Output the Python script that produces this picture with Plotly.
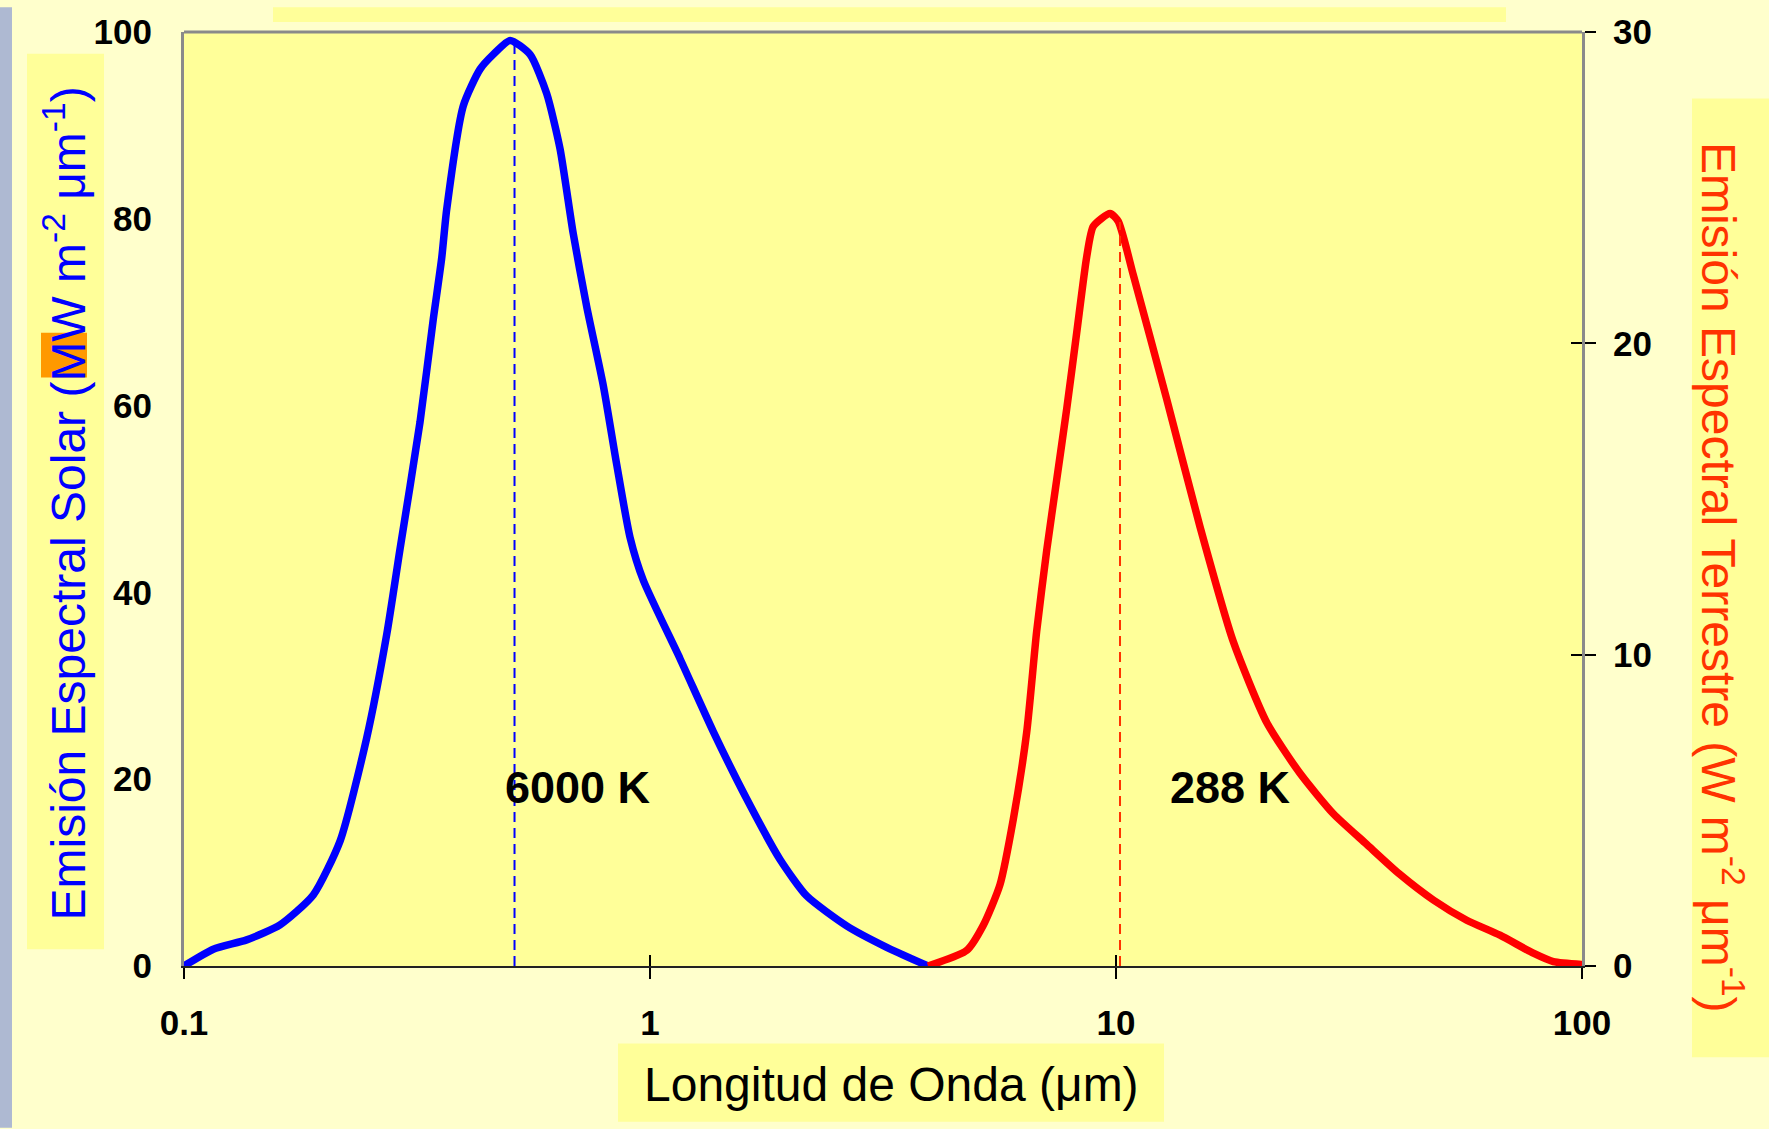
import math
import plotly.graph_objects as go

# ---------------- data ----------------
lam_sol = [0.1, 0.1156, 0.1363, 0.1607, 0.1894, 0.2163, 0.2466, 0.2723, 0.2907, 0.3209,
           0.3428, 0.3573, 0.3662, 0.3975, 0.4316, 0.4611, 0.501, 0.5527, 0.6003, 0.6411,
           0.6844, 0.7314, 0.7942, 0.8482, 0.906, 0.9674, 1.16, 1.367, 1.612, 1.901,
           2.169, 2.642, 3.221, 3.95]
sol = [0, 1.8, 2.8, 4.4, 7.6, 13.4, 24.4, 35.5, 44.6, 58.2,
       69.3, 75.8, 81.0, 92.1, 96.0, 97.6, 99.1, 97.6, 93.4, 87.5,
       78.4, 70.6, 62.1, 53.7, 45.9, 41.3, 32.9, 25.1, 17.9, 11.4,
       7.5, 4.3, 2.0, 0]

lam_ter = [3.95, 4.782, 5.191, 5.636, 6.021, 6.43, 6.756, 7.101, 7.46, 7.839,
           8.235, 8.652, 8.94, 9.71, 10.11, 10.89, 12.85, 15.15, 17.85, 21.06,
           24.82, 29.27, 34.5, 40.68, 47.97, 56.57, 66.68, 78.63, 86.78, 100]
ter = [0, 0.5, 1.31, 2.61, 4.72, 7.49, 10.74, 13.35, 15.62, 17.9,
       20.34, 22.78, 23.76, 24.17, 23.92, 22.2, 18.2, 14.1, 10.42, 7.82,
       6.19, 4.89, 3.91, 2.94, 2.12, 1.47, 0.99, 0.41, 0.14, 0.05]

peak_sol = [0.512, 0.512]
peak_sol_y = [0, 99]
peak_ter = [10.2, 10.2]
peak_ter_y = [0, 23.9]

x_ticks = [0.1, 1, 10, 100]
x_ticktext = ["0.1", "1", "10", "100"]
left_ticks = [0, 20, 40, 60, 80, 100]
right_ticks = [0, 10, 20, 30]

labels = ["6000 K", "288 K"]
label_x = [0.70, 17.6]
label_y = [19.1, 19.1]

# ---------------- styling ----------------
W, H = 1769, 1129
ML, MR, MT, MB = 184, 187, 25, 163
PW, PH = W - ML - MR, H - MT - MB
BOX = "#ffff99"
PAGE = "#ffffcc"
FONT = "Liberation Sans, Arial, sans-serif"


def px(x):
    return (x - ML) / PW


def py(y):
    return (H - MB - y) / PH


fig = go.Figure()

fig.add_trace(go.Scatter(x=lam_sol, y=sol, mode="lines", xaxis="x", yaxis="y",
                         line=dict(color="#0000ff", width=7.5, shape="spline", smoothing=0.6),
                         showlegend=False, hoverinfo="skip"))
fig.add_trace(go.Scatter(x=peak_sol, y=peak_sol_y, mode="lines", xaxis="x", yaxis="y",
                         line=dict(color="#0000ff", width=2, dash="10px,6px"),
                         showlegend=False, hoverinfo="skip"))
fig.add_trace(go.Scatter(x=lam_ter, y=ter, mode="lines", xaxis="x", yaxis="y2",
                         line=dict(color="#ff0000", width=7.5, shape="spline", smoothing=0.6),
                         showlegend=False, hoverinfo="skip"))
fig.add_trace(go.Scatter(x=peak_ter, y=peak_ter_y, mode="lines", xaxis="x2", yaxis="y3",
                         line=dict(color="#ff3300", width=2, dash="10px,6px"),
                         showlegend=False, hoverinfo="skip"))

tickfont = dict(family=FONT, size=35, color="black", weight="bold")

fig.update_layout(
    width=W, height=H,
    margin=dict(l=ML, r=MR, t=MT, b=MB, pad=0),
    paper_bgcolor=PAGE, plot_bgcolor=BOX,
    showlegend=False,
    xaxis=dict(type="log", range=[-1, 2], tickvals=x_ticks, ticktext=x_ticktext,
               ticks="outside", ticklen=11, tickwidth=1.5, tickcolor="black",
               showline=True, linecolor="#222222", linewidth=2,
               showgrid=False, zeroline=False, tickfont=tickfont,
               ticklabelstandoff=14, anchor="y"),
    xaxis2=dict(type="log", matches="x", overlaying="x", side="bottom", anchor="y3",
                tickvals=x_ticks, ticks="inside", ticklen=11, tickwidth=1.5,
                tickcolor="black", showticklabels=False, showline=False,
                showgrid=False, zeroline=False),
    yaxis=dict(range=[0, 100], tickvals=left_ticks, ticks="",
               showline=True, linecolor="#8a8a8a", linewidth=3,
               showgrid=False, zeroline=False, tickfont=tickfont,
               ticklabelstandoff=22, anchor="x"),
    yaxis2=dict(range=[0, 30], tickvals=right_ticks, overlaying="y", side="right",
                ticks="outside", ticklen=11, tickwidth=1.5, tickcolor="black",
                showline=True, linecolor="#8a8a8a", linewidth=3,
                showgrid=False, zeroline=False, tickfont=tickfont,
                ticklabelstandoff=10, anchor="x"),
    yaxis3=dict(matches="y2", overlaying="y", side="right", anchor="x2",
                tickvals=right_ticks, ticks="inside", ticklen=11, tickwidth=1.5,
                tickcolor="black", showticklabels=False, showline=False,
                showgrid=False, zeroline=False),
)

shapes = [
    # left textured strip
    dict(type="rect", xref="paper", yref="paper", x0=px(0), x1=px(12), y0=py(H), y1=py(0),
         fillcolor="#aeb9d2", line=dict(width=0), layer="below"),
    # top (cut) title box
    dict(type="rect", xref="paper", yref="paper", x0=px(273), x1=px(1506), y0=py(15), y1=py(0),
         fillcolor=BOX, line=dict(width=0), layer="below"),
    # left title box
    dict(type="rect", xref="paper", yref="paper", x0=px(27), x1=px(104), y0=py(949), y1=py(47),
         fillcolor=BOX, line=dict(width=0), layer="below"),
    # orange highlight on "M"
    dict(type="rect", xref="paper", yref="paper", x0=px(41), x1=px(87), y0=py(373), y1=py(328),
         fillcolor="#ff9900", line=dict(width=0), layer="below"),
    # right title box
    dict(type="rect", xref="paper", yref="paper", x0=px(1692), x1=px(1769), y0=py(1058), y1=py(92),
         fillcolor=BOX, line=dict(width=0), layer="below"),
    # x title box
    dict(type="rect", xref="paper", yref="paper", x0=px(618), x1=px(1164), y0=py(1123), y1=py(1044),
         fillcolor=BOX, line=dict(width=0), layer="below"),
    # top border of plot area
    dict(type="line", xref="paper", yref="paper", x0=0, x1=1, y0=1, y1=1,
         line=dict(color="#8a8a8a", width=3), layer="above"),
]
fig.update_layout(shapes=shapes)

annotations = [
    dict(text="Longitud de Onda (\u03bcm)", xref="paper", yref="paper",
         x=px(891), y=py(1085), showarrow=False, xanchor="center", yanchor="middle",
         font=dict(family=FONT, size=48, color="black")),
    dict(text="Emisi\u00f3n Espectral Solar (MW m<sup>-2</sup> \u03bcm<sup>-1</sup>)",
         xref="paper", yref="paper", x=px(65), y=py(500), textangle=-90,
         showarrow=False, xanchor="center", yanchor="middle",
         font=dict(family=FONT, size=48, color="#0000ff")),
    dict(text="Emisi\u00f3n Espectral Terrestre (W m<sup>-2</sup> \u03bcm<sup>-1</sup>)",
         xref="paper", yref="paper", x=px(1722), y=py(574), textangle=90,
         showarrow=False, xanchor="center", yanchor="middle",
         font=dict(family=FONT, size=48, color="#ff3300")),
]
for t, lx, ly in zip(labels, label_x, label_y):
    # annotation x on a log axis is given in log10 units
    annotations.append(dict(text=t, x=math.log10(lx), y=ly, xref="x", yref="y",
                            showarrow=False, xanchor="center", yanchor="middle",
                            font=dict(family=FONT, size=45, color="black", weight="bold")))
fig.update_layout(annotations=annotations)

fig.write_html("out.html")
